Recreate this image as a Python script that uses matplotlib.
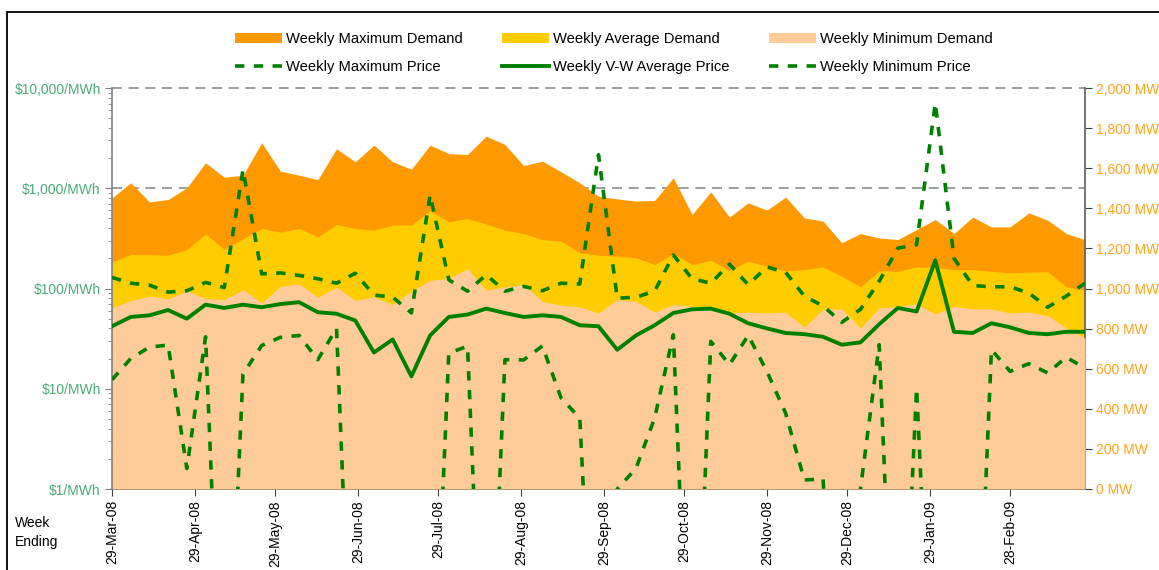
import numpy as np
import pandas as pd
import matplotlib
matplotlib.use('Agg')
import matplotlib.pyplot as plt
import matplotlib.dates as mdates
from matplotlib.patches import Patch, Rectangle
from matplotlib.lines import Line2D
from matplotlib.ticker import FixedLocator, LogLocator, NullFormatter, FuncFormatter

plt.rcParams['font.family'] = ['Liberation Sans', 'DejaVu Sans']

# weekly data, week ending 29-Mar-08 .. 28-Mar-09
weeks = pd.date_range('2008-03-29', periods=53, freq='7D')

# demand (MW, right axis)
max_demand = [1452, 1527, 1432, 1444, 1502, 1627, 1555, 1565, 1727, 1585, 1565, 1543, 1697,
              1632, 1715, 1632, 1595, 1715, 1673, 1668, 1760, 1718, 1613, 1635, 1582, 1527,
              1460, 1447, 1436, 1439, 1552, 1369, 1482, 1356, 1427, 1391, 1456, 1352, 1336,
              1228, 1274, 1252, 1244, 1294, 1344, 1274, 1356, 1307, 1307, 1377, 1341, 1274, 1244]
avg_demand = [1133, 1169, 1169, 1166, 1194, 1272, 1196, 1249, 1299, 1281, 1299, 1257, 1319,
              1299, 1291, 1316, 1316, 1389, 1332, 1349, 1322, 1291, 1274, 1244, 1236, 1178,
              1166, 1161, 1153, 1119, 1174, 1119, 1141, 1089, 1136, 1111, 1089, 1094, 1108,
              1061, 1008, 1089, 1086, 1108, 1106, 1094, 1094, 1086, 1078, 1081, 1084, 1008, 992]
min_demand = [903, 940, 961, 948, 990, 950, 945, 995, 928, 1011, 1023, 957, 1006,
              941, 958, 920, 986, 1041, 1050, 1099, 991, 1008, 1020, 936, 916, 908,
              878, 945, 936, 882, 920, 911, 903, 878, 882, 878, 882, 807, 898,
              898, 803, 903, 911, 923, 873, 911, 898, 898, 878, 882, 865, 803, 753]

# prices ($/MWh, left log axis); weeks with zero/negative minimum shown as 0.001
max_price = [129, 113, 108, 92, 95, 115, 102, 1531, 140, 143, 135, 125, 113,
             142, 86, 82, 57, 857, 122, 94, 137, 94, 105, 95, 113, 111,
             2160, 80, 82, 94, 216, 125, 113, 175, 109, 164, 145, 84, 67,
             46, 62, 118, 253, 273, 7080, 200, 107, 104, 104, 90, 65, 84, 113]
vw_price = [42, 52, 54, 61, 50, 69, 64, 69, 65, 70, 73, 58, 56,
            48, 23, 31, 13.3, 34, 52, 55, 63, 57, 52, 54, 52, 43,
            42, 24.5, 34, 43, 57, 62, 63, 56, 45, 40, 36, 35, 33,
            27.5, 29, 44, 64, 59, 191, 37, 36, 45, 41, 36, 35, 37, 37]
min_price = [12.3, 20, 26, 27.3, 1.6, 33, 0.001, 14, 27, 32.6, 34, 19.5, 40,
             0.001, 0.001, 0.001, 0.001, 0.001, 22.7, 26.5, 0.001, 19.5, 19.4, 26.7, 8.1, 5.1,
             0.001, 1.0, 1.6, 5.1, 34.6, 0.001, 29.7, 17.4, 34.1, 14.9, 5.7, 1.23, 1.26,
             0.001, 1.0, 27.5, 0.001, 10.1, 0.001, 0.001, 0.001, 24.5, 14.9, 17.8, 14.4, 20.6, 16.1]

tick_dates = pd.to_datetime(['2008-03-29', '2008-04-29', '2008-05-29', '2008-06-29', '2008-07-29',
                             '2008-08-29', '2008-09-29', '2008-10-29', '2008-11-29', '2008-12-29',
                             '2009-01-29', '2009-02-28'])
price_decades = [1, 10, 100, 1000, 10000]

c_max = '#FF9900'
c_avg = '#FFCC00'
c_min = '#FFCC99'
c_line = '#008000'
c_green_txt = '#4BAA78'
c_orange_txt = '#FFA31A'

fig = plt.figure(figsize=(11.59, 5.70), dpi=100)
ax = fig.add_axes([112 / 1159, 1 - 489 / 570, 973 / 1159, 401 / 570])

# demand areas
ax.fill_between(weeks, max_demand, color=c_max, lw=0, zorder=1)
ax.fill_between(weeks, avg_demand, color=c_avg, lw=0, zorder=2)
ax.fill_between(weeks, min_demand, color=c_min, lw=0, zorder=3)
ax.set_ylim(0, 2000)
ax.set_xlim(weeks[0], weeks[-1])

# price gridlines, behind the areas (decade -> MW position)
for p in price_decades[1:]:
    ax.axhline(2000 * np.log10(p) / 4, color='#8C8C8C', lw=1.2, ls=(0, (6, 4)), zorder=0, clip_on=False)

ax2 = ax.twinx()
ax2.set_yscale('log')
ax2.plot(weeks, max_price, color=c_line, lw=2.6, ls=(0, (2.6, 2.6)), zorder=5)
ax2.plot(weeks, vw_price, color=c_line, lw=2.8, zorder=6)
ax2.plot(weeks, min_price, color=c_line, lw=2.6, ls=(0, (2.6, 2.6)), zorder=5)
ax2.set_ylim(1, 10000)

# swap sides: demand on right, price on left
ax.yaxis.tick_right()
ax2.yaxis.tick_left()

ax.yaxis.set_major_locator(FixedLocator(range(0, 2001, 200)))
ax.yaxis.set_major_formatter(FuncFormatter(lambda v, p: f'{v:,.0f} MW'))
ax.tick_params(axis='y', direction='out', length=5, color='#404040', labelcolor=c_orange_txt,
               labelsize=10, pad=3)

ax2.yaxis.set_major_locator(FixedLocator(price_decades))
ax2.yaxis.set_minor_locator(LogLocator(base=10, subs=np.arange(2, 10)))
ax2.yaxis.set_minor_formatter(NullFormatter())
ax2.yaxis.set_major_formatter(FuncFormatter(lambda v, p: f'${v:,.0f}/MWh'))
ax2.tick_params(axis='y', which='major', direction='out', length=5, color='#808080',
                labelcolor=c_green_txt, labelsize=10, pad=3)
ax2.tick_params(axis='y', which='minor', direction='out', length=3, color='#808080')

ax.set_xticks(tick_dates)
ax.xaxis.set_major_formatter(mdates.DateFormatter('%d-%b-%y'))
ax.tick_params(axis='x', direction='out', length=5, color='#404040', labelsize=10,
               rotation=90, pad=3)

for a in (ax, ax2):
    a.spines['top'].set_visible(False)
ax.spines['left'].set_visible(False)
ax2.spines['right'].set_visible(False)
ax2.spines['bottom'].set_visible(False)
ax2.spines['left'].set_color('#808080')
ax.spines['right'].set_color('#606060')
ax.spines['bottom'].set_color('#505050')
for s in ('left', 'right', 'bottom'):
    ax.spines[s].set_linewidth(1.2)
    ax2.spines[s].set_linewidth(1.2)

# legend (column-wise fill)
dash = (0, (2.6, 2.6))
handles = [Patch(color=c_max, lw=0), Line2D([], [], color=c_line, lw=2.6, ls=dash),
           Patch(color=c_avg, lw=0), Line2D([], [], color=c_line, lw=2.8),
           Patch(color=c_min, lw=0), Line2D([], [], color=c_line, lw=2.6, ls=dash)]
labels = ['Weekly Maximum Demand', 'Weekly Maximum Price',
          'Weekly Average Demand', 'Weekly V-W Average Price',
          'Weekly Minimum Demand', 'Weekly Minimum Price']
fig.legend(handles, labels, ncol=3, loc='upper center', bbox_to_anchor=(614 / 1159, 1 - 19 / 570),
           frameon=False, fontsize=10.6, handlelength=3.2, handletextpad=0.28, columnspacing=2.65,
           labelspacing=0.95, borderpad=0.4)

fig.text(15 / 1159, 1 - 516 / 570, 'Week\nEnding', ha='left', va='top', fontsize=10, linespacing=1.45)

fig.patches.append(Rectangle((7 / 1159, -0.1), 1.2, 1 - 12 / 570 + 0.1, transform=fig.transFigure,
                             fill=False, ec='black', lw=1.3))

fig.savefig('out.png', dpi=100)
